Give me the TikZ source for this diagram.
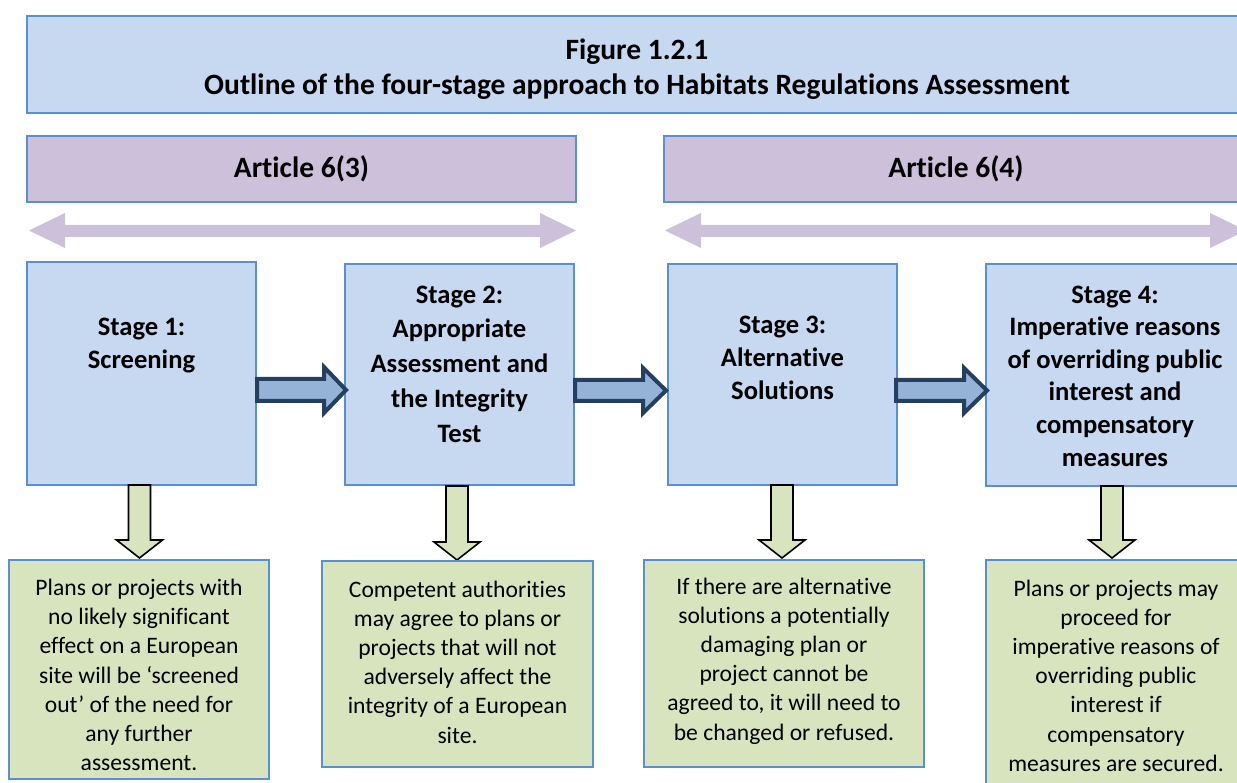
\documentclass[tikz,border=0pt]{standalone}
\usepackage{fontspec}
\setmainfont{Carlito}[Ligatures={NoCommon}]
\definecolor{boxblue}{HTML}{5A8FD6}
\definecolor{lightblue}{HTML}{C6D9F1}
\definecolor{lilac}{HTML}{CCC0DA}
\definecolor{arrowfill}{HTML}{95B3D7}
\definecolor{arrowdark}{HTML}{243F60}
\definecolor{lightgreen}{HTML}{D7E4BD}
\tikzset{
  bluebox/.style={draw=boxblue, line width=1.6pt, fill=lightblue, inner sep=0pt},
  lilacbox/.style={draw=boxblue, line width=1.6pt, fill=lilac, inner sep=0pt},
  greenbox/.style={draw=boxblue, line width=1.6pt, fill=lightgreen, inner sep=0pt},
  headtext/.style={align=center, inner sep=0pt, font=\fontsize{29.5}{35}\selectfont\bfseries},
  stagetext/.style={align=center, inner sep=0pt, font=\fontsize{26.6}{33}\selectfont\bfseries},
  notetext/.style={align=center, inner sep=0pt, font=\fontsize{23.6}{29.2}\selectfont},
  dblarrow/.style={fill=lilac},
  blockarrow/.style={draw=arrowdark, line width=4pt, fill=arrowfill, line join=miter},
  downarrow/.style={draw=black, line width=1.6pt, fill=lightgreen, line join=miter}
}
\begin{document}
\begin{tikzpicture}[x=1pt,y=-1pt]
\clip (0,0) rectangle (1237,783);
\fill[white] (0,0) rectangle (1237,783);
% title
\node[bluebox, minimum width=1220pt, minimum height=97pt] (title) at (637,64.5) {};
\node[headtext] (titletext) at (637,69) {Figure 1.2.1\\Outline of the four-stage approach to Habitats Regulations Assessment};
% articles
\node[lilacbox, minimum width=549pt, minimum height=66pt] (a3) at (301.5,169) {};
\node[headtext] (a3t) at (a3) {Article 6(3)};
\node[lilacbox, minimum width=584pt, minimum height=66pt] (a4) at (956,169) {};
\node[headtext] (a4t) at (a4) {Article 6(4)};
% double arrows
\fill[dblarrow] (29,230.5) -- (65,213) -- (65,225) -- (540,225) -- (540,213) -- (576,230.5) -- (540,248) -- (540,237) -- (65,237) -- (65,248) -- cycle;
\fill[dblarrow] (665,230.5) -- (701,213) -- (701,225) -- (1210,225) -- (1210,213) -- (1246,230.5) -- (1210,248) -- (1210,237) -- (701,237) -- (701,248) -- cycle;
% stage boxes
\node[bluebox, minimum width=229pt, minimum height=223pt] (s1) at (141.5,373.5) {};
\node[bluebox, minimum width=229pt, minimum height=221pt] (s2) at (459.5,374.5) {};
\node[bluebox, minimum width=229pt, minimum height=221pt] (s3) at (782.5,374.5) {};
\node[bluebox, minimum width=258pt, minimum height=222pt] (s4) at (1115,375) {};
\node[stagetext] (s1t) at (141.5,345.5) {Stage 1:\\Screening};
\node[stagetext, font=\fontsize{26.6}{34.8}\selectfont\bfseries] (s2t) at (459.5,364) {Stage 2:\\Appropriate\\Assessment and\\the Integrity\\Test};
\node[stagetext] (s3t) at (782.5,357.5) {Stage 3:\\Alternative\\Solutions};
\node[stagetext, font=\fontsize{26.6}{32.6}\selectfont\bfseries] (s4t) at (1115,376) {Stage 4:\\Imperative reasons\\of overriding public\\interest and\\compensatory\\measures};
% block arrows
\draw[blockarrow] (257,379) -- (324,379) -- (324,367) -- (346,390) -- (324,413) -- (324,401) -- (257,401) -- cycle;
\draw[blockarrow] (575,380) -- (643,380) -- (643,368) -- (666,390.5) -- (643,413) -- (643,401) -- (575,401) -- cycle;
\draw[blockarrow] (896,380) -- (964,380) -- (964,368) -- (987,390.5) -- (964,413) -- (964,401) -- (896,401) -- cycle;
% down arrows
\draw[downarrow] (128.5,485) -- (150.5,485) -- (150.5,540) -- (162.5,540) -- (139.5,558) -- (116.5,540) -- (128.5,540) -- cycle;
\draw[downarrow] (446,486) -- (468,486) -- (468,542) -- (480,542) -- (457,560) -- (434,542) -- (446,542) -- cycle;
\draw[downarrow] (771,485) -- (793,485) -- (793,540) -- (805,540) -- (782,558) -- (759,540) -- (771,540) -- cycle;
\draw[downarrow] (1101,486) -- (1123,486) -- (1123,540) -- (1135,540) -- (1112,558) -- (1089,540) -- (1101,540) -- cycle;
% notes
\node[greenbox, minimum width=260pt, minimum height=219pt] (g1) at (139,669.5) {};
\node[greenbox, minimum width=271pt, minimum height=206pt] (g2) at (457.5,664) {};
\node[greenbox, minimum width=280pt, minimum height=207pt] (g3) at (784,663.5) {};
\node[greenbox, minimum width=260pt, minimum height=240pt] (g4) at (1116,680) {};
\node[notetext] (g1t) at (139,675) {Plans or projects with\\no likely significant\\effect on a European\\site will be ‘screened\\out’ of the need for\\any further\\assessment.};
\node[notetext] (g2t) at (457.5,662) {Competent authorities\\may agree to plans or\\projects that will not\\adversely affect the\\integrity of a European\\site.};
\node[notetext] (g3t) at (784,661) {If there are alternative\\solutions a potentially\\damaging plan or\\project cannot be\\agreed to, it will need to\\be changed or refused.};
\node[notetext] (g4t) at (1116,675.5) {Plans or projects may\\proceed for\\imperative reasons of\\overriding public\\interest if\\compensatory\\measures are secured.};
\end{tikzpicture}
\end{document}
